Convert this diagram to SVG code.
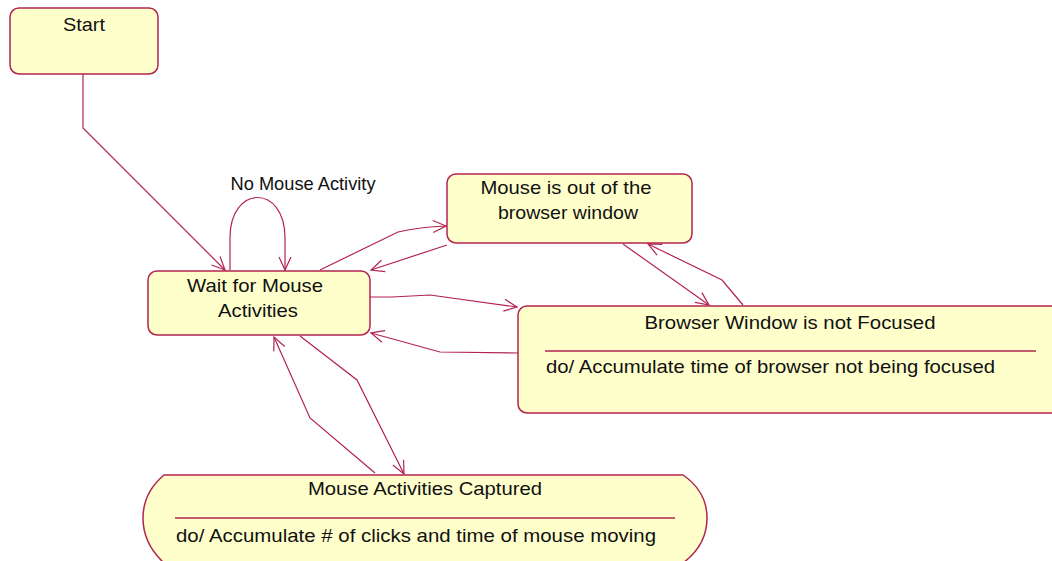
<svg xmlns="http://www.w3.org/2000/svg" width="1052" height="561" viewBox="0 0 1052 561">
  <style>
    .state { fill: #ffffcc; stroke: #b3234f; stroke-width: 1.5; }
    .sep { stroke: #b3234f; stroke-width: 1.5; }
    .edge { fill: none; stroke: #b3234f; stroke-width: 1.2; marker-end: url(#arrow); }
    text { font-family: "Liberation Sans", Arial, sans-serif; font-size: 19px; fill: #111; }
    .c { text-anchor: middle; }
  </style>
  <defs>
    <marker id="arrow" markerUnits="userSpaceOnUse" markerWidth="30" markerHeight="30" refX="0" refY="0" viewBox="-15 -15 30 30" orient="auto" overflow="visible">
      <path d="M-13,-6 L0,0 L-13,6" fill="none" stroke="#b3234f" stroke-width="1.2"/>
    </marker>
  </defs>
  <rect width="1052" height="561" fill="#ffffff"/>

  <g id="connectors">
    <!-- Start to Wait -->
    <path class="edge" d="M83,74 L83,128 L225,270"/>
    <!-- self loop: No Mouse Activity -->
    <path class="edge" d="M230,270 L230,238 C230,184 285,184 285,238 L285,270"/>
    <!-- Wait to Mouse out -->
    <path class="edge" d="M320,270 L398,232 Q420,227 446,226"/>
    <!-- Mouse out to Wait -->
    <path class="edge" d="M447,245 L371,270"/>
    <!-- Wait to Browser not focused -->
    <path class="edge" d="M370,297 L392,297 L430,295 L517,307"/>
    <!-- Browser not focused to Wait -->
    <path class="edge" d="M518,353 L440,352 L371,333"/>
    <!-- Mouse out to Browser not focused -->
    <path class="edge" d="M623,244 L709,305"/>
    <!-- Browser not focused to Mouse out -->
    <path class="edge" d="M743,305 L722,280 L648,244"/>
    <!-- Wait to Captured -->
    <path class="edge" d="M300,336 L357,380 L404,474"/>
    <!-- Captured to Wait -->
    <path class="edge" d="M375,473 L310,418 L274,337"/>
  </g>

  <g id="start">
    <rect class="state" x="10" y="8" width="148" height="66" rx="9"/>
    <text class="c" x="84" y="31" textLength="42" lengthAdjust="spacingAndGlyphs">Start</text>
  </g>

  <g id="loop-label">
    <text class="c" x="303" y="190" textLength="145" lengthAdjust="spacingAndGlyphs">No Mouse Activity</text>
  </g>

  <g id="wait">
    <rect class="state" x="148" y="271" width="222" height="64" rx="9"/>
    <text class="c" x="255" y="292" textLength="136" lengthAdjust="spacingAndGlyphs">Wait for Mouse</text>
    <text class="c" x="258" y="317" textLength="80" lengthAdjust="spacingAndGlyphs">Activities</text>
  </g>

  <g id="mouse-out">
    <rect class="state" x="447" y="174" width="245" height="69" rx="9"/>
    <text class="c" x="566" y="194" textLength="171" lengthAdjust="spacingAndGlyphs">Mouse is out of the</text>
    <text class="c" x="568" y="219" textLength="140" lengthAdjust="spacingAndGlyphs">browser window</text>
  </g>

  <g id="not-focused">
    <rect class="state" x="518" y="306" width="545" height="107" rx="9"/>
    <text class="c" x="790" y="329" textLength="291" lengthAdjust="spacingAndGlyphs">Browser Window is not Focused</text>
    <line class="sep" x1="545" y1="351" x2="1036" y2="351"/>
    <text x="546" y="373" textLength="449" lengthAdjust="spacingAndGlyphs">do/ Accumulate time of browser not being focused</text>
  </g>

  <g id="captured">
    <path class="state" d="M164,475 L683,475 C699,486 707,500 707,518 C707,536 699,551 683,563 L164,563 C151,551 143,536 143,518 C143,500 151,486 164,475 Z"/>
    <text class="c" x="425" y="495" textLength="234" lengthAdjust="spacingAndGlyphs">Mouse Activities Captured</text>
    <line class="sep" x1="175" y1="518" x2="675" y2="518"/>
    <text x="176" y="542" textLength="480" lengthAdjust="spacingAndGlyphs">do/ Accumulate # of clicks and time of mouse moving</text>
  </g>
</svg>
